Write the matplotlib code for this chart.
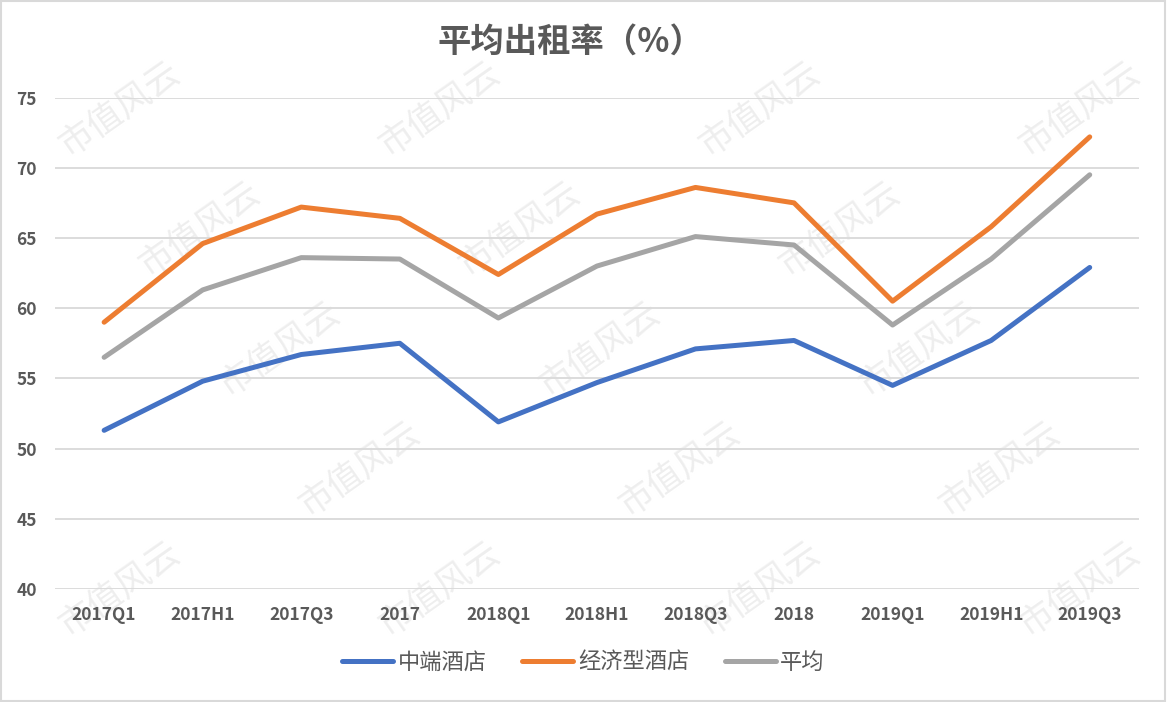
import matplotlib.pyplot as plt
from matplotlib.patches import Rectangle

plt.rcParams['font.family'] = ['Noto Sans CJK SC', 'DejaVu Sans']

periods = ['2017Q1', '2017H1', '2017Q3', '2017', '2018Q1', '2018H1', '2018Q3', '2018',
           '2019Q1', '2019H1', '2019Q3']
midscale = [51.3, 54.8, 56.7, 57.5, 51.9, 54.7, 57.1, 57.7, 54.5, 57.7, 62.9]
economy = [59.0, 64.6, 67.2, 66.4, 62.4, 66.7, 68.6, 67.5, 60.5, 65.8, 72.2]
average = [56.5, 61.3, 63.6, 63.5, 59.3, 63.0, 65.1, 64.5, 58.8, 63.5, 69.5]

fig = plt.figure(figsize=(11.67, 7.02), dpi=100)
ax = fig.add_axes([0.047, 0.161, 0.929, 0.700], zorder=2)

# faint watermark, behind the chart
for j in range(5):
    for i in range(-1, 5):
        x = 120 + 320 * i + 80 * j
        y = 110 + 120 * j
        if 80 < x < 1090:
            fig.text(x / 1167, 1 - y / 702, '市值风云', fontsize=25, color='#eeeeee',
                     fontweight='light', rotation=35, ha='center', va='center', zorder=0)

x = range(len(periods))
ax.plot(x, midscale, color='#4472c4', lw=3.6, label='中端酒店', solid_capstyle='round', zorder=3)
ax.plot(x, economy, color='#ed7d31', lw=3.6, label='经济型酒店', solid_capstyle='round', zorder=3)
ax.plot(x, average, color='#a5a5a5', lw=3.6, label='平均', solid_capstyle='round', zorder=3)

ax.set_xlim(-0.5, len(periods) - 0.5)
ax.set_ylim(40, 75)
ax.set_yticks(range(40, 76, 5))
ax.set_xticks(list(x))
ax.set_xticklabels(periods)
ax.grid(axis='y', color='#d9d9d9', lw=1.3)
ax.set_axisbelow(True)
for s in ax.spines.values():
    s.set_visible(False)
ax.tick_params(length=0, labelsize=12.5, labelcolor='#595959', pad=12)
ax.tick_params(axis='y', pad=13)
for lbl in ax.get_xticklabels() + ax.get_yticklabels():
    lbl.set_fontweight('bold')
ax.patch.set_alpha(0)

fig.text(0.489, 0.94, '平均出租率（%）', fontsize=24, fontweight='bold', color='#595959',
         ha='center', va='center')

leg = fig.legend(loc='center', bbox_to_anchor=(0.5, 0.057), ncol=3, frameon=False,
                 fontsize=16, handlelength=2.3, handletextpad=0.2, columnspacing=1.6)
for t in leg.get_texts():
    t.set_color('#595959')

fig.patches.append(Rectangle((0.001, 0.001), 0.997, 0.997, transform=fig.transFigure,
                             fill=False, edgecolor='#d9d9d9', lw=1.5))

fig.savefig('out.png', dpi=100)
